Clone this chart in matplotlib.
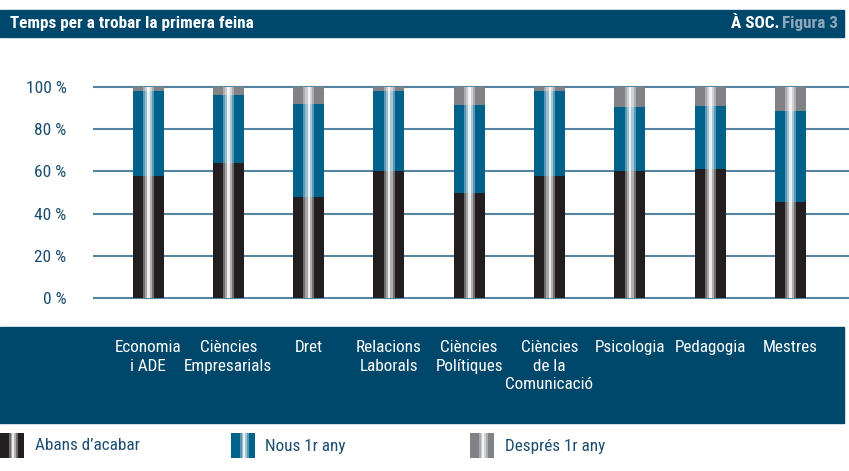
import numpy as np
import matplotlib.pyplot as plt
from matplotlib.patches import Rectangle
from matplotlib.text import Annotation

# Data (percent of graduates)
categories = ['Economia\ni ADE', 'Ciències\nEmpresarials', 'Dret', 'Relacions\nLaborals',
              'Ciències\nPolítiques', 'Ciències\nde la\nComunicació', 'Psicologia',
              'Pedagogia', 'Mestres']
abans = np.array([58, 64, 48, 60, 50, 58, 60, 61, 45.5])
nous = np.array([40, 32, 44, 38, 41.5, 40, 30.5, 30, 43])
despres = 100 - abans - nous
series_names = ['Abans d\u2019acabar', 'Nous 1r any', 'Després 1r any']
yticks = [0, 20, 40, 60, 80, 100]
ytick_labels = ['0 %', '20 %', '40 %', '60 %', '80 %', '100 %']

NAVY = '#00486b'
TXT = '#1b4d70'
colors = ['#231f20', '#00618a', '#808285']

plt.rcParams['font.family'] = ['Roboto Condensed', 'DejaVu Sans']

W, H = 849, 471
fig = plt.figure(figsize=(W / 100, H / 100), dpi=100)


def px(x, y):
    # pixel (from top-left) -> figure fraction
    return x / W, 1 - y / H


# stripe profile: (offset, width, alpha) in units of bar width
stripes = [(-0.17, 0.07, 0.35), (-0.10, 0.07, 0.6), (-0.03, 0.08, 0.92),
           (0.05, 0.07, 0.65), (0.12, 0.07, 0.35)]


def shine(ax, x, height, width):
    for off, w, a in stripes:
        ax.bar(x + off * width, height, width=w * width, color='white',
               alpha=a, linewidth=0, align='edge', zorder=3)


# header
x0, y0 = px(0, 37)
fig.patches.append(Rectangle((x0, y0), 844 / W, 27 / H, transform=fig.transFigure,
                             color=NAVY, zorder=-1))
tx, ty = px(10, 23.5)
fig.text(tx, ty, 'Temps per a trobar la primera feina', color='white',
         fontsize=12.3, fontweight='bold', va='center', ha='left')
rx, ry = px(838, 23.5)
t2 = fig.text(rx, ry, 'Figura 3', color='#8fa8bc', fontsize=12.3, fontweight='bold',
              va='center', ha='right')
fig.add_artist(Annotation('À SOC.', xy=(0, 0.5), xycoords=t2, xytext=(-2, 0),
                          textcoords='offset points', ha='right', va='center',
                          color='white', fontsize=12.3, fontweight='bold'))

# bottom band
bx, by = px(0, 423)
fig.patches.append(Rectangle((bx, by), 844 / W, 96 / H, transform=fig.transFigure,
                             color=NAVY, zorder=-1))

# main axes: 100% at y=87px, 0% at y=298px
ax = fig.add_axes([93 / W, 1 - 300 / H, 1 - 93 / W, 215 / H])
ax.patch.set_alpha(0)
xs = np.arange(len(categories))
bw = 0.386
ax.bar(xs, abans, width=bw, color=colors[0], linewidth=0, zorder=2)
ax.bar(xs, nous, width=bw, bottom=abans, color=colors[1], linewidth=0, zorder=2)
ax.bar(xs, despres, width=bw, bottom=abans + nous, color=colors[2], linewidth=0, zorder=2)
shine(ax, xs, abans + nous + despres, bw)

ax.set_xlim(-0.685, 8.73)
ax.set_ylim(-0.95, 100.95)
ax.set_yticks(yticks)
ax.set_yticklabels(ytick_labels, color=TXT, fontsize=12.5)
ax.set_xticks(xs)
ax.set_xticklabels(categories, color='white', fontsize=12.3, linespacing=1.3, va='top')
ax.tick_params(axis='y', length=0, pad=19)
ax.tick_params(axis='x', length=0, pad=29)
ax.grid(axis='y', color='#5584a3', linewidth=1.5, zorder=0)
ax.set_axisbelow(True)
for s in ax.spines.values():
    s.set_visible(False)

# legend
swatch_x = [0, 231, 470]
text_x = [35, 265, 505]
for i, name in enumerate(series_names):
    lx, ly = px(swatch_x[i], 458)
    lax = fig.add_axes([lx, ly, 24 / W, 25 / H])
    lax.bar([0], [1], width=1, color=colors[i], linewidth=0)
    shine(lax, np.array([0.05]), np.array([1]), 1)
    lax.set_xlim(-0.5, 0.5)
    lax.set_ylim(0, 1)
    lax.axis('off')
    fx, fy = px(text_x[i], 446)
    fig.text(fx, fy, name, color=TXT, fontsize=12.3, va='center', ha='left')

fig.savefig('out.png', dpi=100)
